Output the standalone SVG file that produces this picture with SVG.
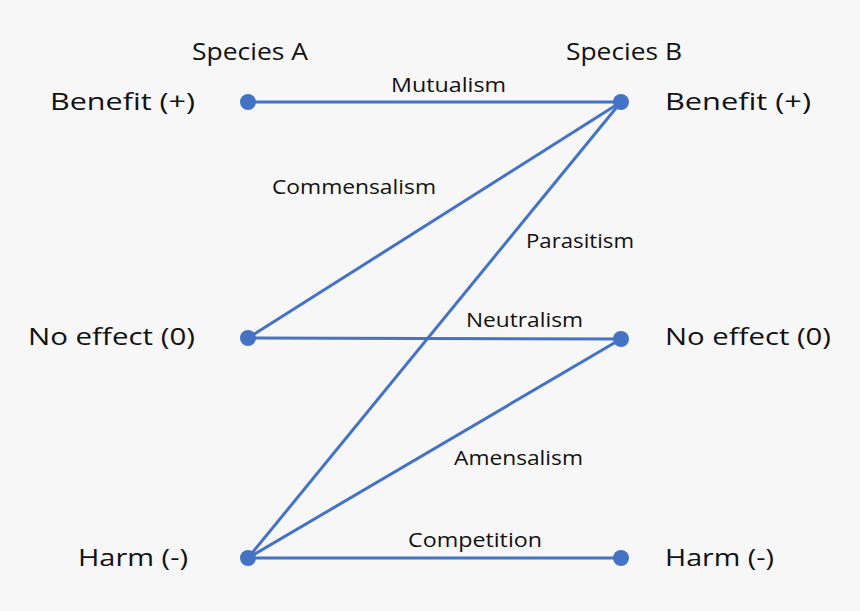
<svg xmlns="http://www.w3.org/2000/svg" width="860" height="611" viewBox="0 0 860 611">
<style>
.bg{fill:#f7f7f7}
.lbl{font-family:"Open Sans","Noto Sans","DejaVu Sans",sans-serif;font-size:24px;fill:#111}
.el{font-family:"Open Sans","Noto Sans","DejaVu Sans",sans-serif;font-size:20px;fill:#111}
.ln{stroke:#4472c4;stroke-width:3;fill:none}
.dot{fill:#4472c4}
</style>
<rect class="bg" width="860" height="611"/>
<text class="lbl" x="192" y="60" textLength="116" lengthAdjust="spacingAndGlyphs">Species A</text>
<text class="lbl" x="566" y="60" textLength="116" lengthAdjust="spacingAndGlyphs">Species B</text>
<g id="connectors">
<line class="ln" x1="248" y1="102" x2="621" y2="102"/>
<line class="ln" x1="248" y1="338" x2="621" y2="102"/>
<line class="ln" x1="248" y1="558" x2="621" y2="102"/>
<line class="ln" x1="248" y1="338" x2="621" y2="339"/>
<line class="ln" x1="248" y1="558" x2="621" y2="339"/>
<line class="ln" x1="248" y1="558" x2="621" y2="558"/>
<text class="el" x="391" y="92" textLength="115" lengthAdjust="spacingAndGlyphs">Mutualism</text>
<text class="el" x="272" y="194" textLength="164" lengthAdjust="spacingAndGlyphs">Commensalism</text>
<text class="el" x="526" y="248" textLength="108" lengthAdjust="spacingAndGlyphs">Parasitism</text>
<text class="el" x="466" y="327" textLength="117" lengthAdjust="spacingAndGlyphs">Neutralism</text>
<text class="el" x="454" y="465" textLength="129" lengthAdjust="spacingAndGlyphs">Amensalism</text>
<text class="el" x="408" y="547" textLength="134" lengthAdjust="spacingAndGlyphs">Competition</text>
</g>
<g id="a-benefit"><circle class="dot" cx="248" cy="102" r="8"/><text class="lbl" x="50" y="110" textLength="145" lengthAdjust="spacingAndGlyphs">Benefit (+)</text></g>
<g id="a-noeffect"><circle class="dot" cx="248" cy="338" r="8"/><text class="lbl" x="28" y="345" textLength="167" lengthAdjust="spacingAndGlyphs">No effect (0)</text></g>
<g id="a-harm"><circle class="dot" cx="248" cy="558" r="8"/><text class="lbl" x="78" y="566" textLength="110" lengthAdjust="spacingAndGlyphs">Harm (-)</text></g>
<g id="b-benefit"><circle class="dot" cx="621" cy="102" r="8"/><text class="lbl" x="665" y="110" textLength="146" lengthAdjust="spacingAndGlyphs">Benefit (+)</text></g>
<g id="b-noeffect"><circle class="dot" cx="621" cy="339" r="8"/><text class="lbl" x="665" y="345" textLength="166" lengthAdjust="spacingAndGlyphs">No effect (0)</text></g>
<g id="b-harm"><circle class="dot" cx="621" cy="558" r="8"/><text class="lbl" x="665" y="566" textLength="109" lengthAdjust="spacingAndGlyphs">Harm (-)</text></g>
</svg>
